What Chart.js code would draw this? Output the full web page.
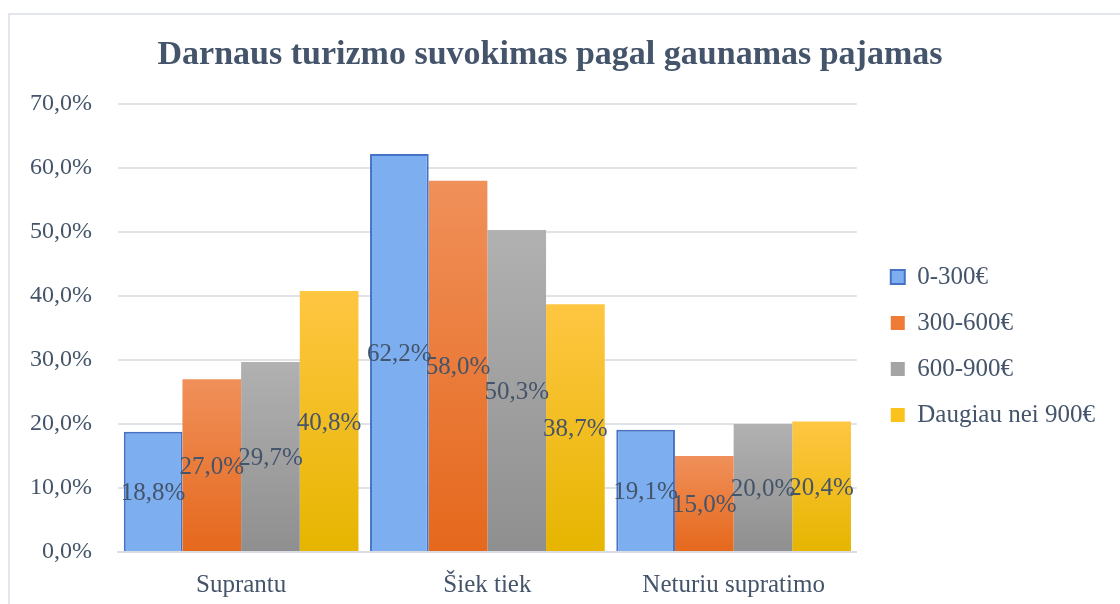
<!DOCTYPE html>
<html>
<head>
<meta charset="utf-8">
<script src="https://cdn.jsdelivr.net/npm/chart.js@4/dist/chart.umd.min.js"></script>
<style>
  html, body { margin: 0; padding: 0; background: #fff; overflow: hidden; }
  #wrap { position: relative; width: 1120px; height: 604px; }
  #frame { position: absolute; left: 8px; top: 13px; width: 1200px; height: 700px;
           border: 2px solid #e2e6ec; pointer-events: none; }
  canvas { position: absolute; left: 0; top: 0; }
</style>
</head>
<body>
<div id="wrap">
  <div id="frame"></div>
  <canvas id="chart" width="1120" height="604"></canvas>
</div>
<script>
const categories = ['Suprantu', 'Šiek tiek', 'Neturiu supratimo'];
const seriesNames = ['0-300€', '300-600€', '600-900€', 'Daugiau nei 900€'];
const income0to300 = [18.8, 62.2, 19.1];
const income300to600 = [27.0, 58.0, 15.0];
const income600to900 = [29.7, 50.3, 20.0];
const incomeOver900 = [40.8, 38.7, 20.4];
const yMax = 70;
const yStep = 10;
const chartTitle = 'Darnaus turizmo suvokimas pagal gaunamas pajamas';

const textColor = '#44546a';
const fontFamily = '"Liberation Serif", "Times New Roman", serif';

// top / bottom colour of each bar's gradient
const gradStops = [
  ['#7caef0', '#7caef0'],
  ['#f0905a', '#e5681c'],
  ['#b1b1b1', '#8f8f8f'],
  ['#ffc642', '#e6b500']
];
const legendColors = ['#7caef0', '#ee7b36', '#a4a4a4', '#fbc21c'];

function fmt(v) {
  return v.toFixed(1).replace('.', ',') + '%';
}

function barGradient(i) {
  return (context) => {
    const chart = context.chart;
    if (!chart.chartArea || context.type !== 'data') return gradStops[i][1];
    const y = chart.scales.y;
    const top = y.getPixelForValue(context.raw);
    const base = y.getPixelForValue(0);
    if (!isFinite(top) || !isFinite(base) || top === base) return gradStops[i][1];
    const g = chart.ctx.createLinearGradient(0, top, 0, base);
    g.addColorStop(0, gradStops[i][0]);
    g.addColorStop(1, gradStops[i][1]);
    return g;
  };
}

const valueLabels = {
  id: 'valueLabels',
  afterDatasetsDraw(chart) {
    const ctx = chart.ctx;
    ctx.save();
    ctx.font = '25px ' + fontFamily;
    ctx.fillStyle = textColor;
    ctx.textAlign = 'center';
    ctx.textBaseline = 'middle';
    chart.data.datasets.forEach((ds, i) => {
      const meta = chart.getDatasetMeta(i);
      meta.data.forEach((bar, j) => {
        ctx.fillText(fmt(ds.data[j]), bar.x, (bar.y + bar.base) / 2 + 2);
      });
    });
    ctx.restore();
  }
};

// title is drawn by hand so it can sit a bit left of the canvas centre, like the original
const titleText = {
  id: 'titleText',
  afterDraw(chart) {
    const ctx = chart.ctx;
    ctx.save();
    ctx.font = 'bold 34px ' + fontFamily;
    ctx.fillStyle = textColor;
    ctx.textAlign = 'center';
    ctx.textBaseline = 'alphabetic';
    ctx.fillText(chartTitle, 550, 64);
    ctx.restore();
  }
};

const allSeries = [income0to300, income300to600, income600to900, incomeOver900];

// invisible scales used only as spacers
const spacer = (position, size) => ({
  position: position,
  type: 'linear',
  grid: { display: false },
  border: { display: false },
  ticks: { display: false },
  afterFit: (scale) => {
    if (position === 'top') scale.height = size; else scale.width = size;
  }
});

new Chart(document.getElementById('chart'), {
  type: 'bar',
  data: {
    labels: categories,
    datasets: allSeries.map((values, i) => ({
      label: seriesNames[i],
      data: values,
      backgroundColor: barGradient(i),
      borderColor: i === 0 ? '#4472c4' : 'rgba(0,0,0,0)',
      borderWidth: i === 0 ? 2 : 0,
      categoryPercentage: 0.953,
      barPercentage: 1.0
    }))
  },
  options: {
    responsive: false,
    animation: false,
    layout: { padding: { left: 4, right: 15, top: 82, bottom: -6 } },
    plugins: {
      title: { display: false },
      legend: {
        position: 'right',
        maxWidth: 300,
        labels: {
          color: textColor,
          font: { family: fontFamily, size: 25 },
          boxWidth: 14,
          boxHeight: 14,
          padding: 21,
          generateLabels: () => seriesNames.map((name, i) => ({
            text: name,
            fillStyle: legendColors[i],
            strokeStyle: i === 0 ? '#4472c4' : legendColors[i],
            lineWidth: i === 0 ? 2 : 0,
            fontColor: textColor,
            datasetIndex: i
          }))
        }
      },
      tooltip: { enabled: false }
    },
    scales: {
      x: {
        grid: { display: false },
        border: { color: '#d9dde3', width: 2 },
        ticks: {
          color: textColor,
          font: { family: fontFamily, size: 25 },
          padding: 10
        }
      },
      y: {
        min: 0,
        max: yMax,
        grid: { color: '#dfe2e7', lineWidth: 2, drawTicks: false },
        border: { display: false },
        ticks: {
          stepSize: yStep,
          color: textColor,
          font: { family: fontFamily, size: 24 },
          padding: 26,
          callback: (v) => fmt(v)
        }
      },
      gapRight: spacer('right', 13),
      gapTop: spacer('top', 22)
    }
  },
  plugins: [valueLabels, titleText]
});
</script>
</body>
</html>
